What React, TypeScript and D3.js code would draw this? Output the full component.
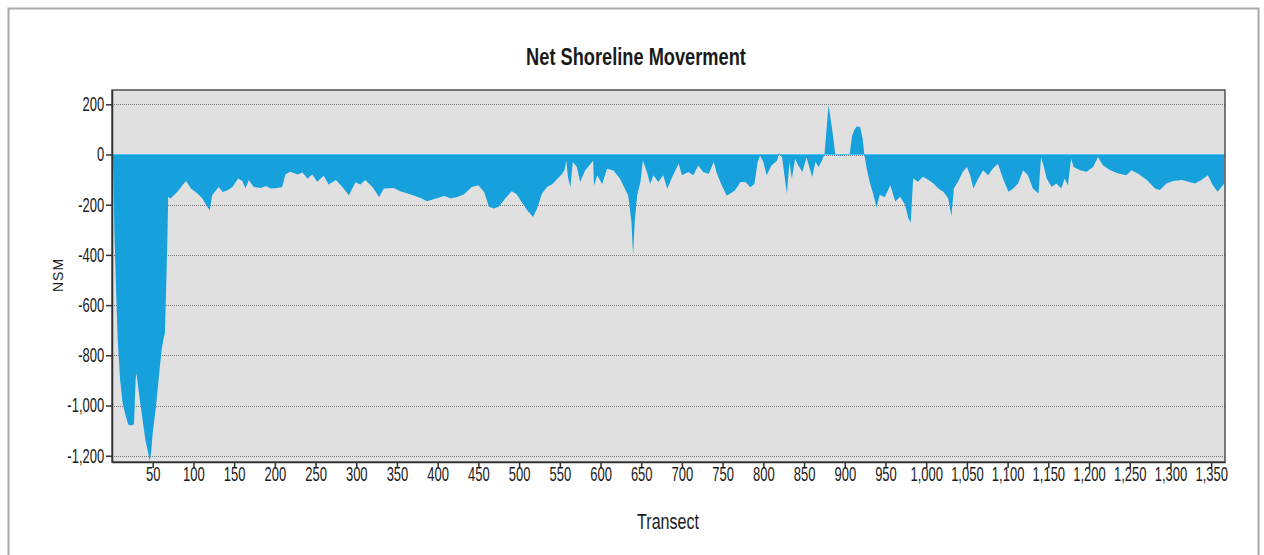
import React, { useEffect, useRef } from 'react';
import * as d3 from 'd3';

// transect numbers and their net shoreline movement
const transects = [
  1, 2, 3, 5, 7, 10, 13, 17, 20, 24, 27, 29, 30, 33, 37, 41, 45, 46, 48, 50, 54, 58, 61, 63, 65, 67, 68, 69,
  72, 76, 82, 87, 91, 97, 105, 111, 117, 120, 123, 131, 136, 142, 148, 155, 160, 164, 168, 174, 183, 189, 195,
  203, 209, 213, 219, 228, 234, 240, 246, 252, 260, 266, 275, 283, 291, 299, 305, 311, 320, 328, 334, 346, 354,
  367, 379, 387, 395, 408, 416, 424, 432, 442, 450, 457, 463, 469, 475, 483, 491, 497,
  503, 510, 517, 522, 528, 534, 541, 547, 553, 556, 558, 560, 563, 566, 571, 575, 581, 588, 591, 592, 596, 602,
  608, 616, 624, 628, 634, 638, 640, 642, 645, 649, 652, 657, 661, 665, 671, 677, 682, 688, 696, 700, 708, 714,
  720, 726, 733, 739, 743, 749, 755, 759, 765, 772, 778, 784, 789, 793, 796, 800, 804, 810, 817, 819, 823, 827,
  829, 832, 835, 839, 843, 848, 853, 860, 864, 868, 872, 875, 876, 880, 882, 885, 888, 889, 895, 900, 906, 909,
  912, 915, 919, 922, 924, 927, 931, 935, 939, 943, 949,
  956, 962, 968, 974, 978, 981, 984, 990, 996, 1003, 1009, 1015, 1021, 1027, 1031, 1034, 1039, 1045, 1050, 1054,
  1058, 1064, 1070, 1076, 1082, 1088, 1095, 1101, 1107, 1113, 1119, 1125, 1131, 1138, 1141, 1144, 1148, 1154,
  1160, 1166, 1170, 1174, 1178, 1181, 1189, 1197, 1205, 1211, 1217, 1226, 1236, 1246, 1252, 1260, 1271, 1281,
  1287, 1295, 1303, 1314, 1322, 1330, 1338, 1346, 1352, 1358, 1363, 1366,
];

const nsm = [
  55, -130, -313, -540, -739, -898, -990, -1044, -1077, -1080, -1075, -898, -870, -950, -1044, -1137, -1197,
  -1223, -1190, -1109, -1004, -870, -778, -739, -711, -472, -340, -168,
  -175, -162, -142, -120, -106, -135, -155, -175, -208, -222, -162, -129, -149, -142, -129, -96, -106, -135,
  -102, -129, -133, -125, -135, -133, -129, -80, -69, -80, -72, -96, -80, -109, -85, -119, -102, -129, -162,
  -111, -119, -102, -129, -169, -135, -133, -146, -159, -173, -186, -178, -165, -175, -169, -159, -129, -122,
  -149, -208, -215, -208, -175, -146, -158,
  -189, -222, -249, -216, -156, -130, -117, -97, -77, -60, -24, -90, -130, -30, -50, -110, -64, -37, -24,
  -123, -83, -117, -57, -64, -97, -123, -163, -269, -401, -269, -163, -110, -24, -70, -117, -83, -110, -83,
  -136, -90, -37, -83, -70, -83, -44, -70, -77, -30, -77, -123, -163, -156, -143, -110, -110, -130, -117, -30,
  -4, -30, -83, -44, -24, 7, -11, -110, -156, -30, -97, -17, -44, -70, -11, -90, -30, -50, -24, 0, 36, 195,
  155, 89, 9, -3, -4, -3, 0, 75, 100, 113, 109, 62, 0, -57, -115, -158, -212, -160, -170,
  -122, -187, -168, -200, -253, -272, -96, -109, -89, -102, -115, -135, -148, -174, -246, -135, -109, -69,
  -50, -83, -135, -96, -63, -83, -56, -37, -102, -148, -135, -115, -63, -83, -135, -155, -10, -43, -96, -128,
  -115, -135, -96, -122, -17, -50, -63, -69, -50, -10, -43, -63, -76, -83, -63, -76, -102, -135, -141, -115,
  -106, -102, -109, -115, -102, -83, -122, -148, -128, -115,
];

const xTicks = [50, 100, 150, 200, 250, 300, 350, 400, 450, 500, 550, 600, 650, 700, 750, 800, 850, 900, 950,
  1000, 1050, 1100, 1150, 1200, 1250, 1300, 1350];
const yTicks = [-1200, -1000, -800, -600, -400, -200, 0, 200];

const W = 1264;
const H = 555;
const plot = { left: 112, right: 1225, top: 90, bottom: 462 };
const font = "'Liberation Sans', Arial, sans-serif";
// the original labels are squeezed sideways
const squeeze = 0.65;

const fmt = (d: number) => d3.format(',')(d).replace('\u2212', '-');

const App = () => {
  const ref = useRef<SVGSVGElement>(null);

  useEffect(() => {
    const svg = d3.select(ref.current);
    svg.selectAll('*').remove();

    const x = d3.scaleLinear().domain([0, 1367]).range([plot.left, plot.right]);
    const y = d3.scaleLinear().domain([-1225, 257]).range([plot.bottom, plot.top]);

    // outer frame
    svg.append('rect')
      .attr('x', 8.5).attr('y', 8.5)
      .attr('width', 1250).attr('height', 560)
      .attr('fill', 'white')
      .attr('stroke', '#a8a8a8')
      .attr('stroke-width', 2);

    svg.append('text')
      .attr('transform', 'translate(636,65) scale(0.76,1)')
      .attr('text-anchor', 'middle')
      .style('font-family', font)
      .style('font-weight', 'bold')
      .style('font-size', '24px')
      .style('fill', '#1a1a1a')
      .text('Net Shoreline Moverment');

    svg.append('rect')
      .attr('x', plot.left).attr('y', plot.top)
      .attr('width', plot.right - plot.left).attr('height', plot.bottom - plot.top)
      .attr('fill', '#e0e0e0');

    // dotted grid
    svg.append('g')
      .selectAll('line')
      .data(yTicks)
      .enter()
      .append('line')
      .attr('x1', plot.left).attr('x2', plot.right)
      .attr('y1', (d) => Math.round(y(d)) + 0.5)
      .attr('y2', (d) => Math.round(y(d)) + 0.5)
      .attr('stroke', '#7a7a7a')
      .attr('stroke-dasharray', '1,1');

    const data = transects.map((t, i) => [t, nsm[i]] as [number, number]);
    const area = d3.area<[number, number]>()
      .x((d) => x(d[0]))
      .y0(y(0))
      .y1((d) => y(d[1]));

    svg.append('path')
      .datum(data)
      .attr('d', area)
      .attr('fill', '#16a0dc');

    svg.append('line')
      .attr('x1', plot.left).attr('x2', plot.right)
      .attr('y1', y(0)).attr('y2', y(0))
      .attr('stroke', '#4fc3ef')
      .attr('stroke-width', 1.2);

    // plot border
    svg.append('rect')
      .attr('x', plot.left).attr('y', plot.top)
      .attr('width', plot.right - plot.left).attr('height', plot.bottom - plot.top)
      .attr('fill', 'none')
      .attr('stroke', '#505050')
      .attr('stroke-width', 1.5);

    const yAxis = svg.append('g')
      .attr('transform', `translate(${plot.left},0)`)
      .call(d3.axisLeft(y).tickValues(yTicks).tickSize(6).tickSizeOuter(0).tickPadding(6).tickFormat(fmt));
    const xAxis = svg.append('g')
      .attr('transform', `translate(0,${plot.bottom})`)
      .call(d3.axisBottom(x).tickValues(xTicks).tickSize(6).tickSizeOuter(0).tickPadding(-1).tickFormat(fmt));

    [yAxis, xAxis].forEach((g) => {
      g.select('.domain').attr('stroke', '#303030').attr('stroke-width', 1.5);
      g.selectAll('.tick line').attr('stroke', '#303030').attr('stroke-width', 1.5);
      g.selectAll('.tick text')
        .attr('transform', `scale(${squeeze},1)`)
        .style('font-family', font)
        .style('font-size', '20px')
        .style('fill', '#1a1a1a');
    });

    svg.append('text')
      .attr('transform', 'translate(668,529) scale(0.73,1)')
      .attr('text-anchor', 'middle')
      .style('font-family', font)
      .style('font-size', '22px')
      .style('fill', '#1a1a1a')
      .text('Transect');

    svg.append('text')
      .attr('transform', 'translate(63,275) rotate(-90)')
      .attr('text-anchor', 'middle')
      .style('font-family', font)
      .style('font-size', '14px')
      .style('letter-spacing', '1px')
      .style('fill', '#1a1a1a')
      .text('NSM');
  }, []);

  return (
    <svg ref={ref} width={W} height={H} style={{ position: 'absolute', left: 0, top: 0 }} />
  );
};

export default App;
